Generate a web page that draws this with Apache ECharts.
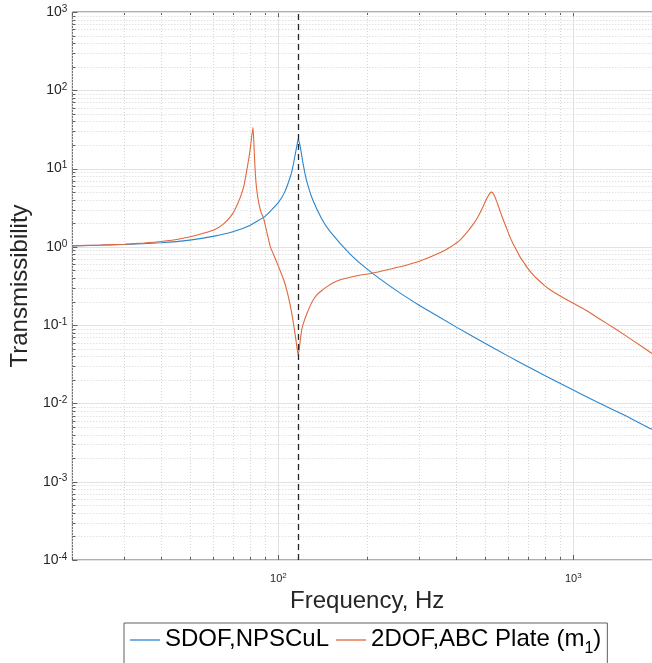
<!DOCTYPE html>
<html><head><meta charset="utf-8">
<script src="https://cdn.jsdelivr.net/npm/echarts@6/dist/echarts.min.js"></script>
<style>html,body{margin:0;padding:0;overflow:hidden;background:#fff;width:652px;height:663px}
#c{width:680px;height:663px}</style></head><body><div id="c"></div>
<script>
// ---- data ----
const seriesNames = ['SDOF,NPSCuL', '2DOF,ABC Plate (m1)'];
const sdofFreq = [20, 30, 40, 50, 60, 70, 80, 90, 100, 105, 110, 112, 114, 116, 116.6, 117.5, 118.5, 120, 121, 123, 125, 130, 140, 150, 175, 200, 250, 300, 400, 500, 600, 700, 800, 1000, 1200, 1500, 1800, 2000];
const sdofT    = [1.03, 1.07, 1.13, 1.22, 1.36, 1.56, 1.88, 2.45, 3.7, 5.0, 8.1, 10.7, 15.1, 21.4, 23.6, 22.2, 19.2, 14.6, 12.0, 8.7, 6.7, 4.2, 2.3, 1.55, 0.81, 0.52, 0.28, 0.18, 0.095, 0.059, 0.0405, 0.0297, 0.0228, 0.0148, 0.0105, 0.0070, 0.0049, 0.0042];
const dofFreq = [20, 25, 30, 35, 40, 46.6, 53, 60.4, 65, 68.8, 71.5, 74.4, 76.5, 78.3, 79.5, 80.4, 81.3, 82, 82.7, 83.5, 84.5, 85.8, 87.5, 89, 91.5, 93.9, 96.5, 99, 101.5, 104.2, 107, 109.8, 112, 114.2, 115.7, 116.6, 117.5, 118.5, 120, 122, 125, 128, 131, 135, 140, 147, 154, 164, 175, 190, 207.5, 230, 258.6, 302, 353, 382, 413, 440, 458, 470, 485, 495, 505, 515, 522, 528, 534, 540, 548, 555, 563, 572, 585, 597, 609, 622, 635, 659, 680, 700, 731, 760, 800, 832, 900, 1000, 1100, 1233, 1400, 1600, 1845, 2000];
const dofT    = [1.035, 1.055, 1.08, 1.12, 1.17, 1.27, 1.42, 1.64, 1.95, 2.43, 3.1, 4.38, 6.2, 10.1, 14, 19, 27, 33.5, 18, 8.5, 5.2, 3.6, 2.7, 2.35, 1.5, 1.0, 0.78, 0.62, 0.49, 0.38, 0.27, 0.175, 0.115, 0.072, 0.05, 0.042, 0.048, 0.062, 0.088, 0.11, 0.142, 0.175, 0.208, 0.243, 0.275, 0.315, 0.35, 0.385, 0.41, 0.437, 0.46, 0.503, 0.556, 0.66, 0.84, 0.99, 1.22, 1.6, 1.95, 2.25, 2.8, 3.3, 3.9, 4.5, 4.85, 5.0, 4.85, 4.5, 3.95, 3.45, 2.96, 2.5, 2.0, 1.65, 1.35, 1.14, 0.98, 0.75, 0.63, 0.535, 0.44, 0.38, 0.32, 0.285, 0.237, 0.19, 0.156, 0.119, 0.088, 0.063, 0.0437, 0.0355];
const markerFreq = 116.6;
const xRange = [20, 2000];
const yRange = [1e-4, 1e3];
const xMajor = [100, 1000];
const xMinor = [20, 30, 40, 50, 60, 70, 80, 90, 200, 300, 400, 500, 600, 700, 800, 900, 2000];
const yMajor = [1e-4, 1e-3, 1e-2, 1e-1, 1, 10, 100, 1000];
const yMinorMult = [2, 3, 4, 5, 6, 7, 8, 9];
const yMinor = [];
yMajor.slice(0, -1).forEach(d => yMinorMult.forEach(m => yMinor.push(m * d)));

const FONT = 'Liberation Sans, Arial, Helvetica, sans-serif';
const AXIS_COLOR = '#5e5e5e';
const BLUE = '#2a86cf';
const ORANGE = '#e0683a';
const px = v => Math.round(v) + 0.5;

function vGrid(values, lineStyle, tickLen) {
  return {
    type: 'custom', silent: true, z: 1, clip: false,
    data: values.map(v => [v, yRange[0]]),
    renderItem: (params, api) => {
      const x = api.value(0);
      const b = api.coord([x, yRange[0]]);
      const t = api.coord([x, yRange[1]]);
      const xx = px(b[0]);
      const ch = [];
      if (lineStyle) ch.push({type: 'line', shape: {x1: xx, y1: b[1], x2: xx, y2: t[1]}, style: lineStyle});
      ch.push({type: 'line', shape: {x1: xx, y1: b[1], x2: xx, y2: b[1] - tickLen}, style: {stroke: AXIS_COLOR, lineWidth: 1}});
      ch.push({type: 'line', shape: {x1: xx, y1: t[1], x2: xx, y2: t[1] + tickLen}, style: {stroke: AXIS_COLOR, lineWidth: 1}});
      return {type: 'group', children: ch};
    }
  };
}
function hGrid(values, lineStyle, tickLen) {
  return {
    type: 'custom', silent: true, z: 1, clip: false,
    data: values.map(v => [xRange[0], v]),
    renderItem: (params, api) => {
      const y = api.value(1);
      const l = api.coord([xRange[0], y]);
      const r = api.coord([xRange[1], y]);
      const yy = px(l[1]);
      const ch = [];
      if (lineStyle) ch.push({type: 'line', shape: {x1: l[0], y1: yy, x2: r[0], y2: yy}, style: lineStyle});
      ch.push({type: 'line', shape: {x1: l[0], y1: yy, x2: l[0] + tickLen, y2: yy}, style: {stroke: AXIS_COLOR, lineWidth: 1}});
      ch.push({type: 'line', shape: {x1: r[0], y1: yy, x2: r[0] - tickLen, y2: yy}, style: {stroke: AXIS_COLOR, lineWidth: 1}});
      return {type: 'group', children: ch};
    }
  };
}
const majorStyle = {stroke: '#e2e2e2', lineWidth: 1};
const minorStyle = {stroke: '#d4d4d4', lineWidth: 1, lineDash: [1, 2]};

function powLabel(v) {
  const e = Math.round(Math.log10(v));
  if (Math.abs(Math.log10(v) - e) > 1e-6) return '';
  return '{b|10}{s|' + e + '}';
}

const chart = echarts.init(document.getElementById('c'), null, {renderer: 'canvas'});
chart.setOption({
  animation: false,
  backgroundColor: '#fff',
  grid: {left: 72, top: 12, right: 18, height: 548, show: true, borderColor: AXIS_COLOR, borderWidth: 1, backgroundColor: 'transparent'},
  xAxis: {
    type: 'log', logBase: 10, min: xRange[0], max: xRange[1],
    axisLine: {show: false}, axisTick: {show: false}, splitLine: {show: false},
    axisLabel: {
      formatter: powLabel, margin: 12, showMinLabel: false, showMaxLabel: false,
      rich: {b: {fontSize: 11, fontFamily: FONT, color: '#262626', lineHeight: 13},
             s: {fontSize: 8, fontFamily: FONT, color: '#262626', verticalAlign: 'top', lineHeight: 8}}
    },
    name: 'Frequency, Hz', nameLocation: 'middle', nameGap: 26,
    nameTextStyle: {fontSize: 24, fontFamily: FONT, color: '#262626'}
  },
  yAxis: {
    type: 'log', logBase: 10, min: yRange[0], max: yRange[1], splitNumber: 7,
    axisLine: {show: false}, axisTick: {show: false}, splitLine: {show: false},
    axisLabel: {
      formatter: powLabel, margin: 5,
      rich: {b: {fontSize: 14, fontFamily: FONT, color: '#262626', lineHeight: 16},
             s: {fontSize: 10, fontFamily: FONT, color: '#262626', verticalAlign: 'top', lineHeight: 10}}
    },
    name: 'Transmissibility', nameLocation: 'middle', nameGap: 33,
    nameTextStyle: {fontSize: 24, fontFamily: FONT, color: '#262626'}
  },
  legend: {
    data: seriesNames, left: 124, top: 623, orient: 'horizontal',
    icon: 'rect', itemGap: 7, itemWidth: 30, itemHeight: 1.3,
    padding: [4, 6, 40, 6], borderColor: AXIS_COLOR, borderWidth: 1, borderRadius: 0,
    backgroundColor: '#fff', selectedMode: false,
    formatter: name => name === seriesNames[1] ? '{t|2DOF,ABC Plate (m}{s|1}{t|)}' : '{t|' + name + '}',
    textStyle: {
      fontSize: 24, fontFamily: FONT, color: '#000',
      rich: {t: {fontSize: 24, fontFamily: FONT, color: '#000', lineHeight: 26, verticalAlign: 'top'},
             s: {fontSize: 16, fontFamily: FONT, color: '#000', lineHeight: 16, verticalAlign: 'top', padding: [14, 0, 0, 0]}}
    }
  },
  series: [
    vGrid(xMinor, minorStyle, 3),
    vGrid(xMajor, majorStyle, 5),
    hGrid(yMinor, minorStyle, 3),
    hGrid(yMajor, majorStyle, 5),
    {
      name: seriesNames[0], type: 'line', z: 3, symbol: 'none', showSymbol: false, smooth: 0.15,
      data: sdofFreq.map((f, i) => [f, sdofT[i]]),
      lineStyle: {color: BLUE, width: 1.1}, itemStyle: {color: BLUE},
      markLine: {
        silent: true, symbol: ['none', 'none'], label: {show: false}, animation: false,
        lineStyle: {type: [6, 4], color: '#262626', width: 1.3},
        emphasis: {disabled: true},
        data: [{xAxis: markerFreq}]
      }
    },
    {
      name: seriesNames[1], type: 'line', z: 3, symbol: 'none', showSymbol: false, smooth: 0.15,
      data: dofFreq.map((f, i) => [f, dofT[i]]),
      lineStyle: {color: ORANGE, width: 1.1}, itemStyle: {color: ORANGE}
    }
  ]
});
</script></body></html>
